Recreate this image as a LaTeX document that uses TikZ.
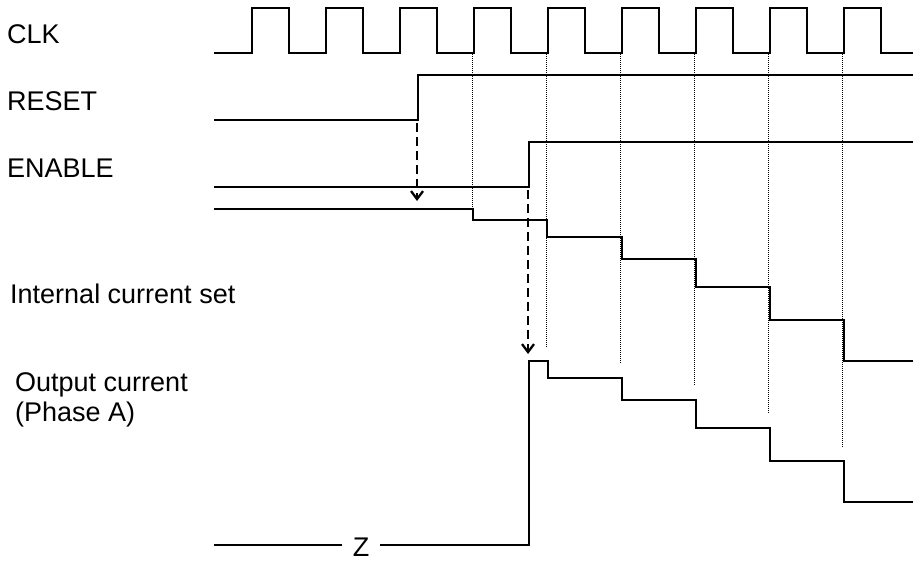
\documentclass[tikz,border=0pt]{standalone}
\usepackage{fontspec}
\setmainfont{Liberation Sans}
\usetikzlibrary{arrows.meta}
\tikzset{
  wave/.style={line width=1.8pt, line join=miter},
  guide/.style={line width=1pt, dash pattern=on 1pt off 1pt},
  cause/.style={line width=2.3pt, dash pattern=on 9pt off 5pt,
    -{Straight Barb[length=8pt,width=12pt,line width=2.3pt]}},
  lbl/.style={anchor=base west, inner sep=0pt, font=\fontsize{27}{32}\selectfont},
}
\begin{document}
\begin{tikzpicture}[x=1pt,y=-1pt]
\useasboundingbox (0,0) rectangle (913,563);
% labels
\node[lbl] (lclk) at (7,43) {CLK};
\node[lbl] (lrst) at (7,110) {RESET};
\node[lbl] (len) at (7,177) {ENABLE};
\node[lbl] (lint) at (10,303) {Internal current set};
\node[lbl] (lout) at (15,391) {Output current};
\node[lbl] (lpha) at (15,421) {(Phase A)};
% clock
\draw[wave] (214,53)
  \foreach \k in {0,...,8} { -- ({252+74*\k},53) -- ({252+74*\k},8) -- ({289+74*\k},8) -- ({289+74*\k},53) }
  -- (913,53);
% guides
\foreach \gx/\gy in {472/209, 546/348, 620/364, 694/385, 768/413, 842/447}
  \draw[guide] (\gx,54) -- (\gx,\gy);
% reset
\coordinate (rrise) at (418,120);
\draw[wave] (214,120) -- (rrise) -- (418,75) -- (913,75);
% enable
\coordinate (erise) at (529,187);
\draw[wave] (214,187) -- (erise) -- (529,142) -- (913,142);
% internal current set
\draw[wave] (214,209) -- (473,209) -- (473,220) -- (547,220) -- (547,237)
  -- (622,237) -- (622,259) -- (696,259) -- (696,287) -- (770,287)
  -- (770,320) -- (844,320) -- (844,361) -- (913,361);
% output current
\node[inner sep=0pt, font=\fontsize{27}{32}\selectfont] (z) at (361,547) {Z};
\draw[wave] (214,545) -- (342,545);
\coordinate (orise) at (529,361);
\draw[wave] (380,545) -- (529,545) -- (orise) -- (548,361) -- (548,378)
  -- (622,378) -- (622,400) -- (696,400) -- (696,428) -- (770,428)
  -- (770,461) -- (844,461) -- (844,502) -- (913,502);
% cause arrows
\coordinate (ra) at (417,123);
\coordinate (rb) at (417,201);
\coordinate (ea) at (528,190);
\coordinate (eb) at (528,354);
\draw[cause] (ra) -- (rb);
\draw[cause] (ea) -- (eb);
\end{tikzpicture}
\end{document}
